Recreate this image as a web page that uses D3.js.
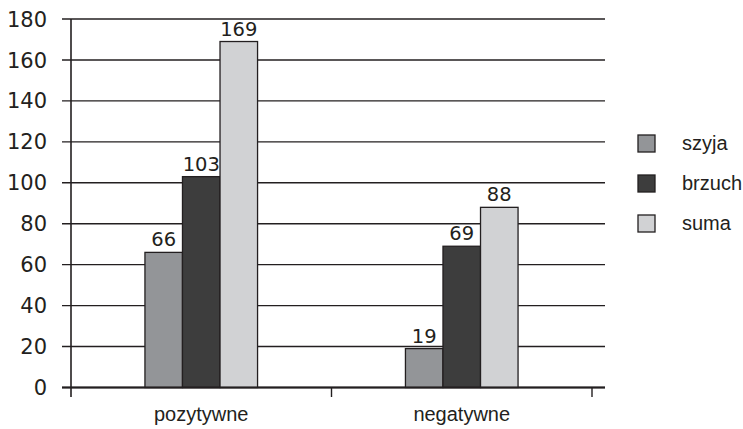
<!DOCTYPE html>
<html>
<head>
<meta charset="utf-8">
<script src="https://cdn.jsdelivr.net/npm/d3@7"></script>
<style>
  html, body { margin: 0; padding: 0; background: #fff; }
  svg { display: block; }
</style>
</head>
<body>
<svg id="chart" width="743" height="429"></svg>
<script>
// Data
const categories = ["pozytywne", "negatywne"];
const seriesNames = ["szyja", "brzuch", "suma"];
const szyja = [66, 19];
const brzuch = [103, 69];
const suma = [169, 88];
const yTicks = [0, 20, 40, 60, 80, 100, 120, 140, 160, 180];

const seriesValues = [szyja, brzuch, suma];
const colors = ["#939598", "#3d3d3d", "#d1d2d4"];
const ink = "#231f20";

const svg = d3.select("#chart");

const plotLeft = 71, plotRight = 592, gridRight = 605;
const y = d3.scaleLinear().domain([0, 180]).range([387.5, 19]);
const x0 = d3.scaleBand().domain(categories).range([plotLeft, plotRight]).padding(0);
const x1 = d3.scaleBand().domain(seriesNames).range([0, x0.bandwidth()])
  .paddingInner(0).paddingOuter(1.97);

// Horizontal gridlines with short outward ticks
const grid = svg.append("g");
grid.selectAll("line")
  .data(yTicks)
  .join("line")
  .attr("x1", 62).attr("x2", gridRight)
  .attr("y1", d => y(d)).attr("y2", d => y(d))
  .attr("stroke", ink).attr("stroke-width", 1.4);

// Y tick labels
svg.append("g").selectAll("text")
  .data(yTicks)
  .join("text")
  .attr("x", 47).attr("y", d => y(d))
  .attr("dy", "0.36em")
  .attr("text-anchor", "end")
  .attr("font-family", "DejaVu Sans, sans-serif")
  .attr("font-size", 21)
  .attr("fill", ink)
  .text(d => d);

// Bars
const groups = svg.append("g").selectAll("g")
  .data(categories)
  .join("g")
  .attr("transform", c => `translate(${x0(c)},0)`);

groups.selectAll("rect")
  .data((c, ci) => seriesNames.map((s, si) => ({ s, si, v: seriesValues[si][ci] })))
  .join("rect")
  .attr("x", d => x1(d.s))
  .attr("width", x1.bandwidth())
  .attr("y", d => y(d.v))
  .attr("height", d => y(0) - y(d.v))
  .attr("fill", d => colors[d.si])
  .attr("stroke", ink).attr("stroke-width", 1.3);

// Value labels
groups.selectAll("text")
  .data((c, ci) => seriesNames.map((s, si) => ({ s, si, v: seriesValues[si][ci] })))
  .join("text")
  .attr("x", d => x1(d.s) + x1.bandwidth() / 2)
  .attr("y", d => y(d.v) - 6)
  .attr("text-anchor", "middle")
  .attr("font-family", "DejaVu Sans, sans-serif")
  .attr("font-size", 19.5)
  .attr("fill", ink)
  .text(d => d.v);

// Axes lines
svg.append("line")
  .attr("x1", plotLeft).attr("x2", plotLeft)
  .attr("y1", y(180)).attr("y2", 397)
  .attr("stroke", ink).attr("stroke-width", 1.6);
svg.append("line")
  .attr("x1", 62).attr("x2", gridRight)
  .attr("y1", y(0)).attr("y2", y(0))
  .attr("stroke", ink).attr("stroke-width", 1.8);

// Category boundary ticks
const boundaries = [plotLeft, ...categories.map(c => x0(c) + x0.bandwidth())];
svg.append("g").selectAll("line")
  .data(boundaries.slice(1))
  .join("line")
  .attr("x1", d => d).attr("x2", d => d)
  .attr("y1", y(0)).attr("y2", 397)
  .attr("stroke", ink).attr("stroke-width", 1.4);

// Category labels
svg.append("g").selectAll("text")
  .data(categories)
  .join("text")
  .attr("x", c => x0(c) + x0.bandwidth() / 2)
  .attr("y", 421)
  .attr("text-anchor", "middle")
  .attr("font-family", "Liberation Sans, Arial, sans-serif")
  .attr("font-size", 20)
  .attr("fill", ink)
  .text(c => c);

// Legend
const legend = svg.append("g").selectAll("g")
  .data(seriesNames)
  .join("g")
  .attr("transform", (d, i) => `translate(638,${135 + i * 40})`);
legend.append("rect")
  .attr("width", 17).attr("height", 17)
  .attr("fill", (d, i) => colors[i])
  .attr("stroke", ink).attr("stroke-width", 1.3);
legend.append("text")
  .attr("x", 44).attr("y", 15)
  .attr("font-family", "Liberation Sans, Arial, sans-serif")
  .attr("font-size", 20)
  .attr("fill", ink)
  .text(d => d);
</script>
</body>
</html>
